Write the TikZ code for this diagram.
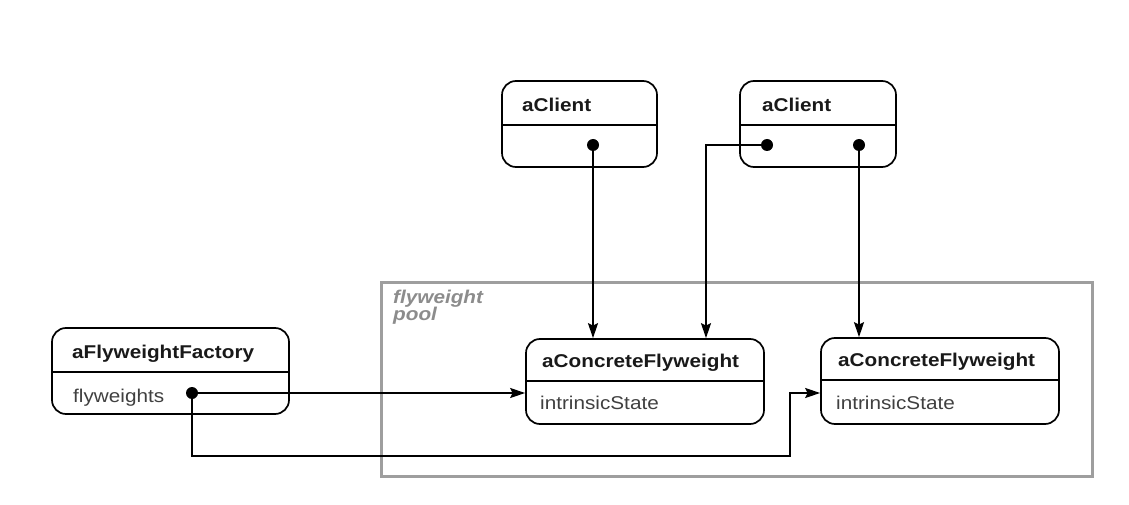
\documentclass[tikz,border=0pt]{standalone}
\usepackage{fontspec}
\setmainfont{Liberation Sans}[FakeStretch=1.12]
\usetikzlibrary{arrows.meta}
\begin{document}
\begin{tikzpicture}[x=1pt,y=-1pt,
  obj/.style={draw=black,line width=1.7pt,rounded corners=14pt,inner sep=0pt,fill=white},
  title/.style={anchor=base west,inner sep=0pt,font=\fontsize{18.5}{18}\selectfont\bfseries,text=black!90},
  attr/.style={anchor=base west,inner sep=0pt,font=\fontsize{18.5}{18}\selectfont,text=black!75},
  pooltxt/.style={anchor=base west,inner sep=0pt,font=\fontsize{18.5}{18}\selectfont\bfseries\itshape,text=black!45},
  dot/.style={circle,fill=black,inner sep=0pt,minimum size=12pt},
  divider/.style={line width=1.7pt},
  link/.style={line width=1.8pt,-{Stealth[length=15pt,width=10pt,inset=2.5pt]}}]
\useasboundingbox (0,0) rectangle (1129,505);
\fill[white] (0,0) rectangle (1129,505);

% flyweight pool
\draw[black!38,line width=3pt] (381,282) rectangle (1092,476);
\node[pooltxt] (poolA) at (393,303) {flyweight};
\node[pooltxt] (poolB) at (393,320) {pool};

% clients
\node[obj,minimum width=155pt,minimum height=86pt] (c1) at (579.5,124) {};
\draw[divider] ([yshift=-45pt]c1.north west) -- ([yshift=-45pt]c1.north east);
\node[title] (c1t) at (522,112) {aClient};
\node[dot] (d1) at (593,145) {};

\node[obj,minimum width=156pt,minimum height=86pt] (c2) at (818,124) {};
\draw[divider] ([yshift=-45pt]c2.north west) -- ([yshift=-45pt]c2.north east);
\node[title] (c2t) at (762,112) {aClient};
\node[dot] (d2) at (767,145) {};
\node[dot] (d3) at (859,145) {};

% factory
\node[obj,minimum width=237pt,minimum height=86pt] (fac) at (170.5,371) {};
\draw[divider] ([yshift=-45pt]fac.north west) -- ([yshift=-45pt]fac.north east);
\node[title] (fact) at (72,358) {aFlyweightFactory};
\node[attr] (faca) at (73,402) {flyweights};
\node[dot] (d4) at (192,393) {};

% concrete flyweights
\node[obj,minimum width=238pt,minimum height=85pt] (f1) at (645,381.5) {};
\draw[divider] ([yshift=-43pt]f1.north west) -- ([yshift=-43pt]f1.north east);
\node[title] (f1t) at (542,367) {aConcreteFlyweight};
\node[attr] (f1a) at (540,409) {intrinsicState};

\node[obj,minimum width=238pt,minimum height=86pt] (f2) at (940,381) {};
\draw[divider] ([yshift=-43pt]f2.north west) -- ([yshift=-43pt]f2.north east);
\node[title] (f2t) at (838,366) {aConcreteFlyweight};
\node[attr] (f2a) at (836,409) {intrinsicState};

% references
\coordinate (bend1) at (706,145);
\coordinate (bend2) at (192,456);
\coordinate (bend3) at (790,456);
\coordinate (bend4) at (790,393);
\draw[link] (d1.center) -- (d1.center |- f1.north);
\draw[link] (d2.center) -- (bend1) -- (bend1 |- f1.north);
\draw[link] (d3.center) -- (d3.center |- f2.north);
\draw[link] (d4.center) -- (d4.center -| f1.west);
\draw[link] (d4.center) -- (bend2) -- (bend3) -- (bend4) -- (bend4 -| f2.west);
\end{tikzpicture}
\end{document}
